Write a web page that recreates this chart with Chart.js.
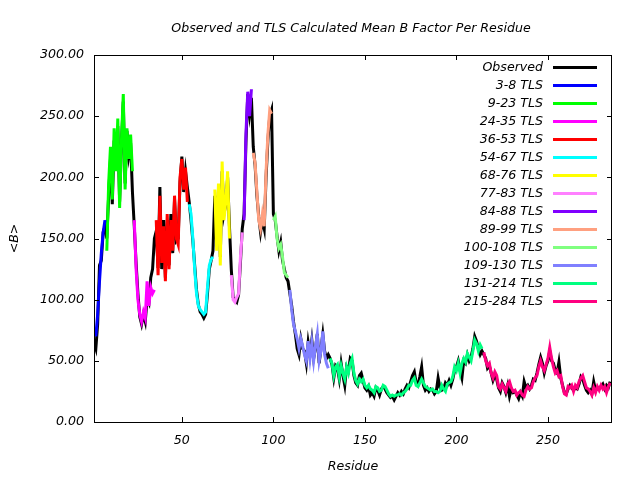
<!DOCTYPE html>
<html>
<head>
<meta charset="utf-8">
<script src="https://cdn.jsdelivr.net/npm/chart.js@4/dist/chart.umd.min.js"></script>
<style>
  html, body { margin: 0; padding: 0; background: #fff; }
  canvas { display: block; }
</style>
</head>
<body>
<canvas id="bChart" width="640" height="480"></canvas>
<script>
// Observed mean B per residue, residues 2..284
var observedStart = 2;
var observedB = [
    65, 60, 80, 128, 132, 155, 160, 150, 185, 215,
    178, 230, 208, 242, 180, 228, 262, 195, 238, 218,
    228, 188, 160, 130, 105, 86, 80, 88, 82, 100,
    97, 118, 125, 150, 156, 126, 192, 125, 165, 118,
    165, 128, 170, 138, 182, 148, 150, 196, 217, 188,
    205, 192, 180, 165, 148, 128, 108, 96, 90, 88,
    85, 88, 105, 125, 132, 140, 185, 145, 190, 135,
    205, 170, 178, 200, 160, 125, 102, 100, 98, 104,
    130, 158, 170, 228, 268, 252, 265, 225, 210, 185,
    168, 155, 165, 158, 200, 230, 250, 255, 170, 165,
    152, 140, 147, 132, 125, 118, 115, 105, 95, 82,
    72, 60, 55, 68, 60, 58, 48, 65, 55, 67,
    52, 60, 72, 48, 60, 72, 58, 52, 55, 52,
    47, 36, 46, 44, 35, 48, 38, 30, 45, 42,
    52, 50, 38, 32, 30, 38, 40, 34, 28, 26,
    29, 22, 24, 21, 28, 26, 22, 27, 29, 27,
    24, 22, 20, 21, 18, 21, 24, 22, 25, 23,
    27, 30, 28, 33, 38, 41, 32, 30, 37, 45,
    30, 26, 28, 25, 27, 26, 23, 25, 36, 28,
    26, 27, 32, 30, 34, 30, 35, 42, 45, 50,
    42, 36, 50, 48, 55, 50, 53, 60, 70, 66,
    60, 55, 58, 55, 52, 44, 46, 40, 34, 38,
    35, 28, 25, 32, 29, 24, 30, 21, 27, 24,
    25, 22, 19, 24, 21, 33, 28, 30, 27, 30,
    35, 34, 40, 47, 53, 48, 40, 46, 50, 58,
    50, 48, 42, 40, 49, 36, 30, 24, 23, 27,
    30, 28, 26, 28, 27, 31, 37, 35, 30, 26,
    24, 26, 23, 33, 26, 27, 28, 29, 31, 27,
    30, 28, 33
];

// TLS calculated mean B, one array per TLS group
var tls3_8 = [70, 88, 115, 138, 155, 165];
var tls9_23 = [140, 195, 225, 182, 240, 205, 248, 175, 230, 268, 190, 240, 215, 235, 205];
var tls24_35 = [165, 125, 100, 88, 82, 90, 85, 115, 95, 110, 105, 108];
var tls36_53 = [165, 120, 185, 130, 160, 115, 170, 125, 165, 140, 185, 150, 145, 200, 215, 190, 208, 180];
var tls54_67 = [178, 170, 150, 125, 105, 95, 92, 90, 88, 90, 110, 128, 133, 135];
var tls68_76 = [190, 140, 195, 128, 213, 165, 180, 205, 150];
var tls77_83 = [120, 100, 98, 102, 105, 135, 155];
var tls84_88 = [165, 235, 270, 250, 272];
var tls89_99 = [220, 212, 188, 165, 158, 170, 160, 205, 235, 255, 252];
var tls100_108 = [165, 168, 150, 142, 145, 135, 122, 120, 118];
var tls109_130 = [108, 92, 80, 74, 68, 60, 68, 62, 55, 50, 66, 52, 65, 50, 62, 72, 50, 58, 74, 55, 48, 44];
var tls131_214 = [
    52, 48, 38, 45, 47, 37, 46, 40, 35, 45,
    40, 48, 52, 40, 34, 31, 35, 33, 35, 30,
    28, 30, 27, 26, 24, 29, 28, 25, 26, 30,
    29, 26, 23, 21, 22, 21, 22, 22, 23, 22,
    24, 25, 27, 30, 30, 34, 36, 30, 29, 32,
    35, 32, 29, 28, 27, 26, 27, 25, 25, 24,
    25, 30, 27, 25, 31, 32, 33, 37, 45, 42,
    48, 40, 48, 52, 49, 56, 53, 50, 58, 67,
    64, 58, 63, 60
];
var tls215_284 = [
    57, 50, 46, 48, 40, 36, 41, 38, 29, 27,
    31, 28, 25, 31, 33, 28, 25, 26, 22, 24,
    25, 22, 21, 26, 29, 27, 28, 33, 36, 38,
    45, 50, 45, 42, 47, 52, 61, 52, 45, 40,
    42, 37, 38, 29, 23, 22, 29, 28, 30, 25,
    30, 28, 33, 36, 38, 33, 28, 27, 25, 22,
    28, 24, 29, 26, 30, 27, 29, 24, 29, 32
];

var tlsLabels = ['3-8 TLS', '9-23 TLS', '24-35 TLS', '36-53 TLS', '54-67 TLS', '68-76 TLS', '77-83 TLS',
    '84-88 TLS', '89-99 TLS', '100-108 TLS', '109-130 TLS', '131-214 TLS', '215-284 TLS'];
var tlsStarts = [3, 9, 24, 36, 54, 68, 77, 84, 89, 100, 109, 131, 215];
var tlsValues = [tls3_8, tls9_23, tls24_35, tls36_53, tls54_67, tls68_76, tls77_83,
    tls84_88, tls89_99, tls100_108, tls109_130, tls131_214, tls215_284];

var xTicks = [50, 100, 150, 200, 250];
var yTicks = [0, 50, 100, 150, 200, 250, 300];

var tlsColors = ['#0000ff', '#00ff00', '#ff00ff', '#ff0000', '#00ffff', '#ffff00', '#ff80ff',
    '#8000ff', '#ffa080', '#80ff80', '#8080ff', '#00ff80', '#ff0080'];

var textFont = '"DejaVu Sans", sans-serif';

function toPoints(start, values) {
    return values.map(function (v, i) {
        return { x: start + i, y: v };
    });
}

var datasets = [{
    label: 'Observed',
    data: toPoints(observedStart, observedB),
    borderColor: '#000000',
    borderWidth: 3,
    order: 1
}];
tlsLabels.forEach(function (label, i) {
    datasets.push({
        label: label,
        data: toPoints(tlsStarts[i], tlsValues[i]),
        borderColor: tlsColors[i],
        borderWidth: 3,
        order: 0
    });
});

// gnuplot style frame: border, inward ticks, title and legend
var framePlugin = {
    id: 'gnuplotFrame',
    afterDatasetsDraw: function (chart) {
        var ctx = chart.ctx;
        var a = chart.chartArea;
        var xs = chart.scales.x;
        var ys = chart.scales.y;
        var tick = 5;

        ctx.save();
        ctx.strokeStyle = '#000';
        ctx.lineWidth = 1;
        ctx.beginPath();
        ctx.rect(a.left + 0.5, a.top + 0.5, a.right - a.left - 1, a.bottom - a.top);
        xTicks.forEach(function (t) {
            var px = Math.round(xs.getPixelForValue(t)) + 0.5;
            ctx.moveTo(px, a.bottom);
            ctx.lineTo(px, a.bottom - tick);
            ctx.moveTo(px, a.top);
            ctx.lineTo(px, a.top + tick);
        });
        yTicks.forEach(function (t) {
            var py = Math.round(ys.getPixelForValue(t)) + 0.5;
            ctx.moveTo(a.left, py);
            ctx.lineTo(a.left + tick, py);
            ctx.moveTo(a.right, py);
            ctx.lineTo(a.right - tick, py);
        });
        ctx.stroke();

        // title
        ctx.fillStyle = '#000';
        ctx.font = 'italic 12.6px ' + textFont;
        ctx.textAlign = 'center';
        ctx.textBaseline = 'middle';
        ctx.fillText('Observed and TLS Calculated Mean B Factor Per Residue', 351, 28.5);

        // legend, text on the left of the sample line
        ctx.textAlign = 'right';
        chart.data.datasets.forEach(function (ds, i) {
            var y = 67.5 + i * 18;
            ctx.fillStyle = '#000';
            ctx.fillText(ds.label, 543, y + 0.5);
            ctx.strokeStyle = ds.borderColor;
            ctx.lineWidth = 3;
            ctx.beginPath();
            ctx.moveTo(553, y);
            ctx.lineTo(597, y);
            ctx.stroke();
        });
        ctx.restore();
    }
};

var ctx = document.getElementById('bChart').getContext('2d');
var bChart = new Chart(ctx, {
    type: 'line',
    data: { datasets: datasets },
    plugins: [framePlugin],
    options: {
        responsive: false,
        animation: false,
        devicePixelRatio: 1,
        layout: { padding: { top: 55, right: 28, left: 0, bottom: 0 } },
        elements: {
            point: { radius: 0 },
            line: { tension: 0, borderCapStyle: 'butt' }
        },
        plugins: {
            legend: { display: false },
            tooltip: { enabled: false }
        },
        scales: {
            x: {
                type: 'linear',
                min: 2,
                max: 285,
                grid: { display: false, drawTicks: false },
                border: { display: false },
                afterBuildTicks: function (scale) {
                    scale.ticks = xTicks.map(function (v) { return { value: v }; });
                },
                afterFit: function (scale) { scale.height = 58; },
                ticks: {
                    color: '#000',
                    padding: 11,
                    maxRotation: 0,
                    font: { family: textFont, size: 12.6, style: 'italic' }
                },
                title: {
                    display: true,
                    text: 'Residue',
                    color: '#000',
                    padding: { top: 0, bottom: 6 },
                    font: { family: textFont, size: 12.6, style: 'italic' }
                }
            },
            y: {
                min: 0,
                max: 300,
                grid: { display: false, drawTicks: false },
                border: { display: false },
                afterBuildTicks: function (scale) {
                    scale.ticks = yTicks.map(function (v) { return { value: v }; });
                },
                afterFit: function (scale) { scale.width = 94; },
                ticks: {
                    color: '#000',
                    padding: 10,
                    callback: function (v) { return v.toFixed(2); },
                    font: { family: textFont, size: 12.6, style: 'italic' }
                },
                title: {
                    display: true,
                    text: '<B>',
                    color: '#000',
                    padding: { top: 7, bottom: 0 },
                    font: { family: textFont, size: 12.6, style: 'italic' }
                }
            }
        }
    }
});
</script>
</body>
</html>
